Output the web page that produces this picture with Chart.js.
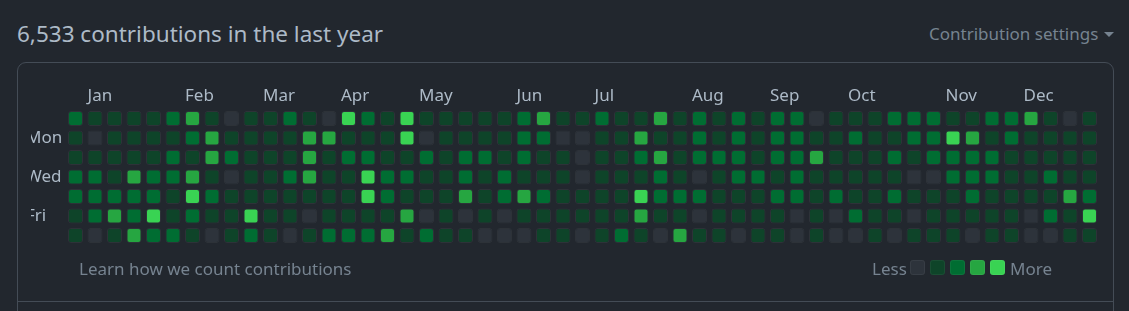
<!DOCTYPE html>
<html>
<head>
<meta charset="utf-8">
<script src="https://cdn.jsdelivr.net/npm/chart.js@4.4.0/dist/chart.umd.min.js"></script>
<style>
  body {
    margin: 0;
    width: 1129px;
    height: 311px;
    background: #22272e;
    overflow: hidden;
    position: relative;
    font-family: "Noto Sans", sans-serif;
  }
  .txt { position: absolute; line-height: 1; white-space: nowrap; }
  #title { left: 17px; top: 23px; font-size: 22.5px; color: #adbac7; }
  #settings { left: 929px; top: 25px; font-size: 17px; color: #768390; }
  #caret {
    position: absolute; left: 1104px; top: 32px; width: 0; height: 0;
    border-left: 5px solid transparent; border-right: 5px solid transparent;
    border-top: 5.5px solid #768390;
  }
  #box {
    position: absolute; left: 17px; top: 62px; width: 1095px; height: 400px;
    border: 1px solid #444c56; border-radius: 9px;
  }
  #sep { position: absolute; left: 17px; top: 301px; width: 1097px; height: 1px; background: #444c56; }
  #chartWrap {
    position: absolute; left: 26px; top: 80px; width: 1080px; height: 185px;
    clip-path: inset(0 0 0 5px);
  }
  #learn { left: 79px; top: 260px; font-size: 17px; color: #768390; }
  .muted { font-size: 17px; color: #768390; top: 260px; }
  .sq { position: absolute; top: 260px; width: 15px; height: 15px; border-radius: 3px;
        box-shadow: inset 0 0 0 1px rgba(255,255,255,0.05); }
</style>
</head>
<body>
<div id="title" class="txt">6,533 contributions in the last year</div>
<div id="settings" class="txt">Contribution settings</div>
<div id="caret"></div>
<div id="box"></div>
<div id="sep"></div>
<div id="chartWrap"><canvas id="graph"></canvas></div>
<div id="learn" class="txt">Learn how we count contributions</div>
<div class="txt muted" style="left:872px">Less</div>
<div id="legendCells"></div>
<div class="txt muted" style="left:1010px">More</div>

<script>
// contribution level (0-4) for each week, one array per weekday
const sun = [2,1,1,1,1,2,3,1,0,1,1,2,1,0, 4,2,1,4,1,1,1,1,1,2,3,1,1, 2,1,1,3,1,2,1,2,1,2,2,0,1, 1,1,2,2,2,1,1,2,2,3,1,0,1];
const mon = [1,0,1,1,1,1,2,3,1,1,1,1,3,3, 1,1,1,4,0,1,1,1,1,2,2,0,0, 1,1,3,1,1,2,1,2,1,2,2,1,1, 2,1,1,2,2,4,3,1,2,1,1,1,1];
const tue = [1,1,1,1,1,2,1,3,2,1,1,1,3,1, 2,2,1,1,2,1,2,2,1,2,1,1,0, 1,1,2,3,1,2,2,2,1,2,2,3,1, 1,1,2,1,2,2,2,2,1,1,1,1,1];
const wed = [2,2,1,3,2,2,3,1,0,1,1,2,3,1, 1,4,2,2,1,1,2,1,2,1,1,1,0, 1,1,1,2,1,0,1,2,2,1,2,1,1, 1,1,1,0,0,2,2,2,1,1,2,1,1];
const thu = [2,2,2,2,2,1,4,2,1,1,1,1,1,1, 1,4,2,1,1,1,3,1,2,3,2,1,1, 1,1,4,2,2,2,1,1,1,2,2,1,2, 1,1,2,1,1,1,2,1,1,1,1,3,2];
const fri = [1,2,3,2,4,1,2,1,1,4,1,1,0,1, 1,1,1,3,0,1,0,1,0,1,1,1,1, 1,1,3,1,1,0,1,1,1,1,0,1,0, 2,1,1,0,1,1,1,1,1,0,2,1,4];
const sat = [1,0,1,3,2,2,1,0,1,2,1,0,1,2, 2,2,3,1,2,1,1,0,0,0,1,1,0, 1,2,1,0,3,1,1,0,1,1,0,1,0, 0,1,0,1,1,1,0,1,1,0,0,1,1];

const weekdays = ['Sun', 'Mon', 'Tue', 'Wed', 'Thu', 'Fri', 'Sat'];
const dayLabels = ['', 'Mon', '', 'Wed', '', 'Fri', ''];
const months = ['Jan', 'Feb', 'Mar', 'Apr', 'May', 'Jun', 'Jul', 'Aug', 'Sep', 'Oct', 'Nov', 'Dec'];
const monthStartWeek = [1, 6, 10, 14, 18, 23, 27, 32, 36, 40, 45, 49];

const levelColors = ['#2d333b', '#0e4429', '#006d32', '#26a641', '#39d353'];
const labelFont = { family: 'Noto Sans', size: 17 };

// legend swatches
const legendCells = document.getElementById('legendCells');
levelColors.forEach((c, i) => {
    const d = document.createElement('div');
    d.className = 'sq';
    d.style.left = (910 + i * 20) + 'px';
    d.style.background = c;
    legendCells.appendChild(d);
});

const rows = [sun, mon, tue, wed, thu, fri, sat];
const weeks = sun.map((_, i) => i);
const cellGap = 2.25 / 19.5;

const datasets = rows.map((levels, r) => ({
    label: weekdays[r],
    data: levels.map(() => [r + cellGap, r + 1 - cellGap]),
    backgroundColor: levels.map(l => levelColors[l]),
    borderColor: 'rgba(255,255,255,0.05)',
    borderWidth: 1,
    borderRadius: 3,
    borderSkipped: false,
    grouped: false,
    barPercentage: 15 / 19.5,
    categoryPercentage: 1
}));

new Chart(document.getElementById('graph').getContext('2d'), {
    type: 'bar',
    data: { labels: weeks, datasets: datasets },
    options: {
        responsive: true,
        maintainAspectRatio: false,
        animation: false,
        events: [],
        layout: { padding: { left: 0, top: 0, right: 6.75, bottom: 19.75 } },
        plugins: {
            legend: { display: false },
            tooltip: { enabled: false }
        },
        scales: {
            x: {
                type: 'category',
                position: 'top',
                offset: true,
                grid: { display: false, drawTicks: false },
                border: { display: false },
                ticks: {
                    autoSkip: false,
                    maxRotation: 0,
                    minRotation: 0,
                    align: 'start',
                    labelOffset: -7.5,
                    padding: 2,
                    color: '#adbac7',
                    font: labelFont,
                    callback: function(value, index) {
                        const m = monthStartWeek.indexOf(index);
                        return m >= 0 ? months[m] : '';
                    }
                },
                afterFit: function(scale) { scale.height = 28.75; }
            },
            y: {
                type: 'linear',
                min: 0,
                max: 7,
                reverse: true,
                grid: { display: false, drawTicks: false },
                border: { display: false },
                afterBuildTicks: function(scale) {
                    scale.ticks = [1.5, 3.5, 5.5].map(v => ({ value: v }));
                },
                ticks: {
                    crossAlign: 'far',
                    padding: 0,
                    color: '#adbac7',
                    font: labelFont,
                    callback: function(value) { return dayLabels[Math.floor(value)]; }
                },
                afterFit: function(scale) { scale.width = 39.75; }
            }
        }
    }
});
</script>
</body>
</html>
